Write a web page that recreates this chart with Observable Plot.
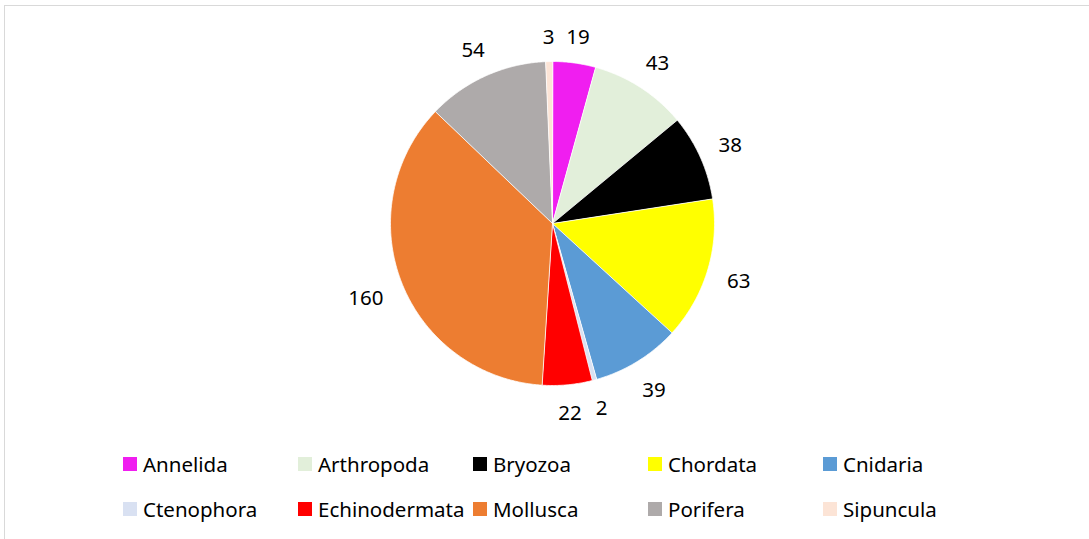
<!DOCTYPE html>
<html>
<head>
<meta charset="utf-8">
<script src="https://cdn.jsdelivr.net/npm/d3@7"></script>
<script src="https://cdn.jsdelivr.net/npm/@observablehq/plot@0.6"></script>
<style>
  html, body { margin: 0; padding: 0; background: #fff; }
  body { width: 1089px; height: 539px; position: relative; overflow: hidden; font-family: "Noto Sans", sans-serif; }
  #frame { position: absolute; left: 4px; top: 5px; width: 1100px; height: 560px; border: 1px solid #d9d9d9; box-sizing: border-box; }
  #chart { position: absolute; left: 0; top: 0; }
  #legend { position: absolute; left: 123px; top: 454px; display: grid; grid-template-columns: repeat(5, 175px); grid-auto-rows: 45px; }
  .item { display: flex; align-items: center; height: 20px; font-size: 20.5px; color: #000; white-space: nowrap; }
  .sw { width: 14px; height: 14px; margin-right: 6px; flex: none; }
</style>
</head>
<body>
<div id="frame"></div>
<div id="chart"></div>
<div id="legend"></div>
<script>
const categories = ["Annelida", "Arthropoda", "Bryozoa", "Chordata", "Cnidaria", "Ctenophora", "Echinodermata", "Mollusca", "Porifera", "Sipuncula"];
const values = [19, 43, 38, 63, 39, 2, 22, 160, 54, 3];
const colors = ["#F01EF0", "#E2EFDA", "#000000", "#FFFF00", "#5B9BD5", "#D9E1F2", "#FF0000", "#ED7D31", "#AEAAAA", "#FCE4D6"];

const W = 1089, H = 440;
const cx = 552, cy = 223, R = 162;

const data = categories.map((name, i) => ({name, value: values[i], color: colors[i]}));
const arcs = d3.pie().sort(null).value(d => d.value)(data);

const marks = [];
for (const a of arcs) {
  const pts = [{x: cx, y: cy}];
  const n = Math.max(2, Math.ceil((a.endAngle - a.startAngle) / (Math.PI / 360)));
  for (let k = 0; k <= n; k++) {
    const t = a.startAngle + (a.endAngle - a.startAngle) * k / n;
    pts.push({x: cx + R * Math.sin(t), y: cy - R * Math.cos(t)});
  }
  marks.push(Plot.line(pts, {x: "x", y: "y", curve: "linear-closed", fill: a.data.color, stroke: "#fff", strokeWidth: 0.75}));
}

const labels = arcs.map(a => {
  const m = (a.startAngle + a.endAngle) / 2;
  const txt = String(a.data.value);
  const hw = txt.length * 6, hh = 7;
  const rr = R + 19 + hw * Math.abs(Math.sin(m)) + hh * Math.abs(Math.cos(m));
  return {x: cx + rr * Math.sin(m), y: cy - rr * Math.cos(m) + 2, text: txt};
});
marks.push(Plot.text(labels, {x: "x", y: "y", text: "text", fontSize: 20.5, fill: "#000", textAnchor: "middle", lineAnchor: "middle"}));

const chart = Plot.plot({
  width: W, height: H,
  margin: 0,
  x: {domain: [0, W], range: [0, W], axis: null},
  y: {domain: [0, H], range: [0, H], axis: null},
  style: {fontFamily: "'Noto Sans', sans-serif", background: "transparent"},
  marks
});
document.getElementById("chart").appendChild(chart);

const legend = document.getElementById("legend");
data.forEach(d => {
  const it = document.createElement("div");
  it.className = "item";
  const sw = document.createElement("span");
  sw.className = "sw";
  sw.style.background = d.color;
  const tx = document.createElement("span");
  tx.textContent = d.name;
  it.appendChild(sw); it.appendChild(tx);
  legend.appendChild(it);
});
</script>
</body>
</html>
